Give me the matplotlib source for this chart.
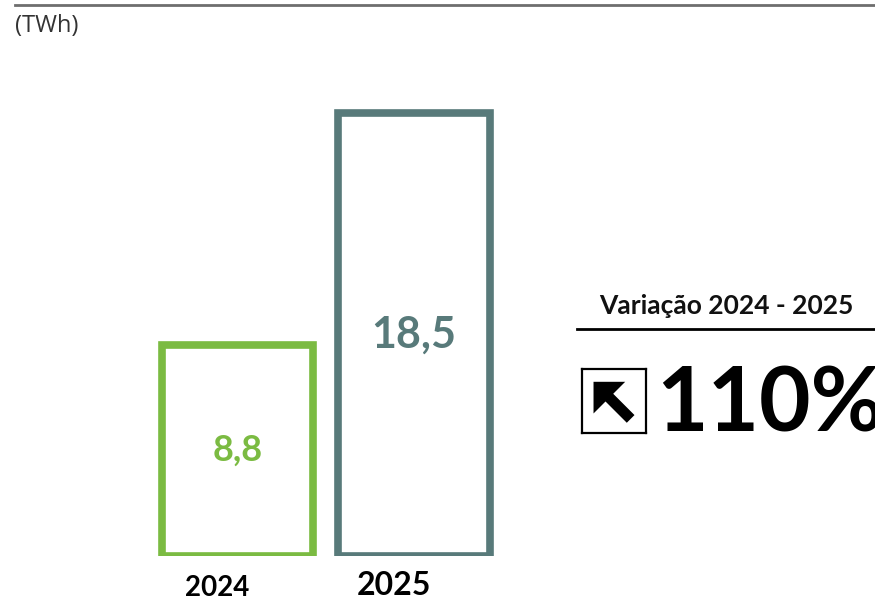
import matplotlib.pyplot as plt
from matplotlib.patches import FancyArrow
from matplotlib.lines import Line2D

plt.rcParams['font.family'] = ['Lato', 'DejaVu Sans']

years = ['2024', '2025']
values = [8.8, 18.5]
value_labels = ['8,8', '18,5']
bar_colors = ['#7BBB42', '#587A7A']
value_sizes = [26, 31]
year_sizes = [20, 23]
variation_title = 'Variação 2024 - 2025'
variation_text = '110%'

W, H = 875, 597
fig = plt.figure(figsize=(W / 100, H / 100), dpi=100)


def px_rect(x0, y0, x1, y1):
    # pixel box (top-left origin) -> figure fraction [l, b, w, h]
    return [x0 / W, 1 - y1 / H, (x1 - x0) / W, (y1 - y0) / H]


# top rule and unit
fig.add_artist(Line2D([15 / W, 1], [1 - 5 / H, 1 - 5 / H], color='#6E6E6E', lw=2))
fig.text(15 / W, 1 - 26 / H, '(TWh)', fontsize=17, color='#333333',
         family=['Open Sans', 'DejaVu Sans'], va='center', ha='left')

# bars
ax = fig.add_axes(px_rect(149.25, 77.5, 502.25, 555.5))
ax.set_xlim(-0.5, 1.5)
ax.set_ylim(0, 20)
ax.axis('off')
ax.bar(range(len(values)), values, width=0.86, facecolor='white',
       edgecolor=bar_colors, linewidth=5.5)
for i, (v, lab, c, fs) in enumerate(zip(values, value_labels, bar_colors, value_sizes)):
    ax.text(i, v / 2, lab, color=c, fontsize=fs, fontweight='bold',
            ha='center', va='center')
for i, (yr, fs) in enumerate(zip(years, year_sizes)):
    ax.annotate(yr, xy=(i, 0), xytext=(-14.5, -29 if i == 0 else -28.5),
                textcoords='offset points', ha='center', va='baseline',
                fontsize=fs, fontweight='bold', color='black',
                annotation_clip=False)

# variation panel
fig.text(726 / W, 1 - 306 / H, variation_title, fontsize=19, fontweight='bold',
         ha='center', va='center', color='#111111')
fig.add_artist(Line2D([577 / W, 1], [1 - 329 / H, 1 - 329 / H], color='black', lw=2))
fig.text(656 / W, 1 - 432 / H, variation_text, fontsize=64, fontweight='bold',
         ha='left', va='baseline', color='black')

icon = fig.add_axes(px_rect(582, 369, 646, 433))
icon.set_xlim(0, 1)
icon.set_ylim(0, 1)
icon.set_xticks([])
icon.set_yticks([])
for s in icon.spines.values():
    s.set_linewidth(1.6)
icon.add_patch(FancyArrow(0.76, 0.22, -0.58, 0.58, width=0.17, head_width=0.7,
                          head_length=0.35, length_includes_head=True,
                          color='black', lw=0))

fig.savefig('out.png', dpi=100)
